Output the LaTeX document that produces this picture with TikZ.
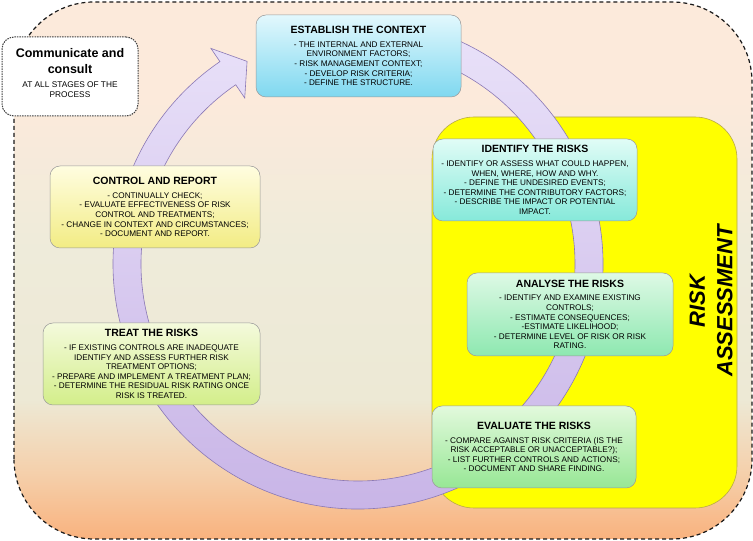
\documentclass[tikz,border=0pt]{standalone}
\usepackage{fontspec}
\setmainfont{Liberation Sans}
\definecolor{bgA}{HTML}{F9B27E}
\definecolor{bgB}{HTML}{F5CFAA}
\definecolor{bgC}{HTML}{EDE9D5}
\definecolor{bgD}{HTML}{EEEBDA}
\definecolor{bgE}{HTML}{FCEADB}
\definecolor{estT}{HTML}{E2F8FD}
\definecolor{estB}{HTML}{7FD8F0}
\definecolor{idT}{HTML}{E0FCF6}
\definecolor{idB}{HTML}{86E9DA}
\definecolor{anT}{HTML}{DEF9E5}
\definecolor{anB}{HTML}{8DE8B0}
\definecolor{evT}{HTML}{E2F9DC}
\definecolor{evB}{HTML}{97E795}
\definecolor{ctT}{HTML}{FFFDE0}
\definecolor{ctB}{HTML}{F2EC84}
\definecolor{trT}{HTML}{F4FADC}
\definecolor{trB}{HTML}{D3EE8A}
\definecolor{arT}{HTML}{EBE4FA}
\definecolor{arB}{HTML}{C7B3E6}
\definecolor{arLine}{HTML}{8A78B5}
\definecolor{yel}{HTML}{FFFF00}
\definecolor{yelLine}{HTML}{B8A84A}
\definecolor{boxLine}{HTML}{9A9A9A}
\pgfdeclareverticalshading{bgshade}{100bp}{color(0bp)=(bgA); color(25bp)=(bgA); color(31bp)=(bgB); color(38bp)=(bgC); color(52bp)=(bgD); color(66bp)=(bgE); color(100bp)=(bgE)}
\newcommand\mybody{\fontsize{8.2}{9.6}\selectfont}
\newcommand\mytitle{\fontsize{10.5}{12}\selectfont\bfseries}
\newcommand\mycomm{\fontsize{12.5}{15}\selectfont\bfseries}
\begin{document}
\begin{tikzpicture}[x=1pt,y=1pt,
  stagebox/.style={draw=boxLine, line width=0.5pt, rounded corners=10pt, inner sep=0pt, align=center, font=\mybody},
  band/.style={draw=arLine, line width=0.6pt, top color=arT, bottom color=arB}]
\useasboundingbox (0,0) rectangle (753,541);
% outer process area
\path[shading=bgshade, rounded corners=80pt] (14,2) rectangle (752,539);
\draw[black!90, line width=1.2pt, dash pattern=on 4pt off 3pt, rounded corners=80pt] (14,2) rectangle (752,539);
% communicate and consult
\node[draw=black!75, fill=white, line width=1pt, dash pattern=on 1.5pt off 1pt, rounded corners=12pt, minimum width=136pt, minimum height=79pt, inner sep=0pt] (comm) at (70,464.5) {};
\node[align=center, inner sep=0pt, font=\fontsize{8.3}{10}\selectfont] (commtext) at ([yshift=3.5pt]comm.center) {{\mycomm Communicate and}\\[6pt]{\mycomm consult}\\[4pt]AT ALL STAGES OF THE\\PROCESS};
% risk assessment area
\draw[fill=yel, draw=yelLine, line width=0.6pt, rounded corners=42pt] (432,33) rectangle (737,424);
\node[rotate=90, align=center, inner sep=0pt, font=\fontsize{22}{27.5}\selectfont\bfseries\itshape] (ra) at (711,240) {RISK\\ASSESSMENT};
% circular arrow
\begin{scope}[shift={(358,277)}]
\path[band] (100:245) arc[start angle=100, end angle=-235.7, radius=245] -- (-235.7:261) -- (-241.3:231) -- (-235.7:201) -- (-235.7:217) arc[start angle=-235.7, end angle=100, radius=217] -- cycle;
\end{scope}
% stages
\node[stagebox, minimum width=205pt, minimum height=82pt, top color=estT, bottom color=estB] (est) at (358.5,485) {{\mytitle ESTABLISH THE CONTEXT}\\[4pt]- THE INTERNAL AND EXTERNAL\\ENVIRONMENT FACTORS;\\- RISK MANAGEMENT CONTEXT;\\- DEVELOP RISK CRITERIA;\\- DEFINE THE STRUCTURE.};
\node[stagebox, minimum width=204pt, minimum height=82pt, top color=idT, bottom color=idB] (ident) at (535,361) {{\mytitle IDENTIFY THE RISKS}\\[4pt]- IDENTIFY OR ASSESS WHAT COULD HAPPEN,\\WHEN, WHERE, HOW AND WHY.\\- DEFINE THE UNDESIRED EVENTS;\\- DETERMINE THE CONTRIBUTORY FACTORS;\\- DESCRIBE THE IMPACT OR POTENTIAL\\IMPACT.};
\node[stagebox, minimum width=206pt, minimum height=83pt, top color=anT, bottom color=anB] (anal) at (570,226.5) {{\mytitle ANALYSE THE RISKS}\\[4pt]- IDENTIFY AND EXAMINE EXISTING\\CONTROLS;\\- ESTIMATE CONSEQUENCES;\\-ESTIMATE LIKELIHOOD;\\- DETERMINE LEVEL OF RISK OR RISK\\RATING.};
\node[stagebox, minimum width=204pt, minimum height=82pt, top color=evT, bottom color=evB] (eval) at (534,94) {{\mytitle EVALUATE THE RISKS}\\[4pt]- COMPARE AGAINST RISK CRITERIA (IS THE\\RISK ACCEPTABLE OR UNACCEPTABLE?);\\- LIST FURTHER CONTROLS AND ACTIONS;\\- DOCUMENT AND SHARE FINDING.};
\node[stagebox, minimum width=217pt, minimum height=82pt, top color=trT, bottom color=trB] (treat) at (151.5,177) {{\mytitle TREAT THE RISKS}\\[4pt]- IF EXISTING CONTROLS ARE INADEQUATE\\IDENTIFY AND ASSESS FURTHER RISK\\TREATMENT OPTIONS;\\- PREPARE AND IMPLEMENT A TREATMENT PLAN;\\- DETERMINE THE RESIDUAL RISK RATING ONCE\\RISK IS TREATED.};
\node[stagebox, minimum width=210pt, minimum height=82pt, top color=ctT, bottom color=ctB] (ctrl) at (155,334) {{\mytitle CONTROL AND REPORT}\\[4pt]- CONTINUALLY CHECK;\\- EVALUATE EFFECTIVENESS OF RISK\\CONTROL AND TREATMENTS;\\- CHANGE IN CONTEXT AND CIRCUMSTANCES;\\- DOCUMENT AND REPORT.};
\end{tikzpicture}
\end{document}
